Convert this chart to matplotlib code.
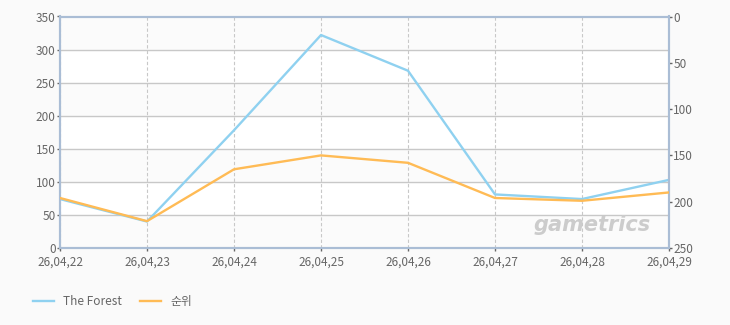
import matplotlib.pyplot as plt

dates = ['26,04,22', '26,04,23', '26,04,24', '26,04,25', '26,04,26', '26,04,27', '26,04,28', '26,04,29']
forest = [74, 40, 178, 322, 268, 81, 74, 103]
rank = [196, 221, 165, 150, 158, 196, 199, 190]

plt.rcParams['font.family'] = ['Noto Sans CJK KR', 'DejaVu Sans']

fig = plt.figure(figsize=(7.3, 3.25), dpi=100, facecolor='#fafafa')
ax = fig.add_axes([60 / 730, 77 / 325, 609 / 730, 231.5 / 325])
ax.set_facecolor('white')

x = list(range(len(dates)))

# alternate bands (very faint)
for i, lo in enumerate(range(0, 350, 50)):
    if i % 2 == 0:
        ax.axhspan(lo, lo + 50, color='#fbfbfb', zorder=0)

ax.set_xlim(0, len(dates) - 1)
ax.set_ylim(0, 350)
ax.set_yticks(range(0, 351, 50))
ax.set_xticks(x)
ax.set_xticklabels(dates)
ax.grid(axis='y', color='#c8c8c8', linewidth=1, linestyle='-')
ax.grid(axis='x', color='#c8c8c8', linewidth=0.8, linestyle=(0, (3, 2)))
ax.set_axisbelow(True)

l1, = ax.plot(x, forest, color='#8fd1f0', linewidth=1.7, label='The Forest', zorder=3)

ax2 = ax.twinx()
ax2.set_ylim(250, 0)
ax2.set_yticks(range(0, 251, 50))
l2, = ax2.plot(x, rank, color='#ffbb55', linewidth=1.7, label='순위', zorder=3)

for a in (ax, ax2):
    for s in a.spines.values():
        s.set_color('#aabdd5')
        s.set_linewidth(1.5)
    a.tick_params(colors='#666666', labelsize=8.5, length=2, width=1)
    a.tick_params(axis='y', pad=1)

ax.text(0.97, 0.1, 'gametrics', transform=ax.transAxes, ha='right', va='center',
        fontsize=15, color='#cccccc', fontweight='bold', style='italic', family='DejaVu Sans')

fig.legend(handles=[l1, l2], loc='lower left', bbox_to_anchor=(0.03, 0.02), ncol=2,
           frameon=False, fontsize=8.5, labelcolor='#666666', handlelength=1.8, columnspacing=1.5)

fig.savefig('out.png', dpi=100, facecolor=fig.get_facecolor())
